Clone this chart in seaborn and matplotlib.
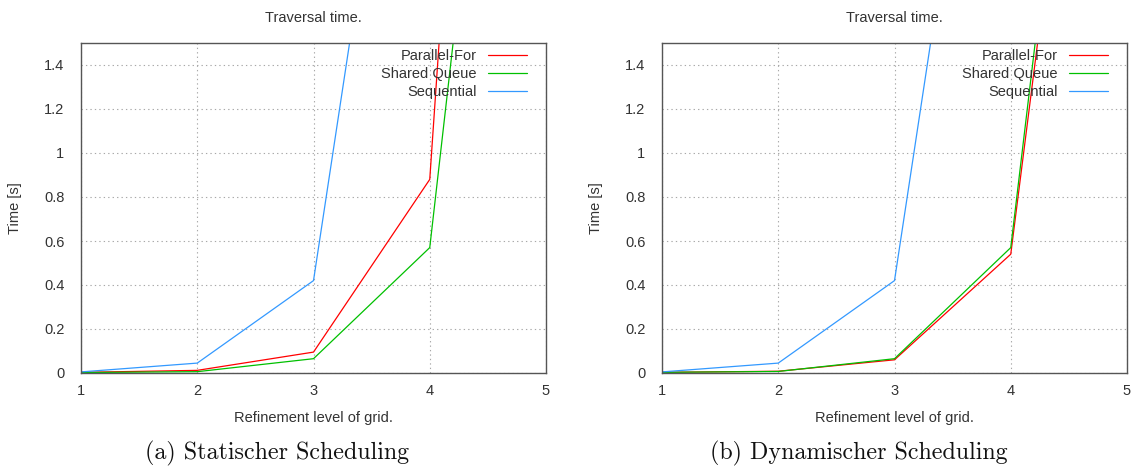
import matplotlib
matplotlib.use("Agg")
import matplotlib.pyplot as plt
import matplotlib.ticker as mticker
import seaborn as sns
import pandas as pd

levels = [1, 2, 3, 4, 5]
series_names = ["Parallel-For", "Shared Queue", "Sequential"]

# Panel (a) Statischer Scheduling
static_parallel_for = [0.003, 0.012, 0.095, 0.88, 8.6]
static_shared_queue = [0.002, 0.006, 0.065, 0.57, 5.2]
static_sequential = [0.005, 0.045, 0.42, 3.9, 35.0]

# Panel (b) Dynamischer Scheduling
dynamic_parallel_for = [0.003, 0.008, 0.060, 0.54, 4.7]
dynamic_shared_queue = [0.003, 0.007, 0.065, 0.57, 5.0]
dynamic_sequential = [0.005, 0.045, 0.42, 3.9, 35.0]

title_text = "Traversal time."
xlabel_text = "Refinement level of grid."
ylabel_text = "Time [s]"
captions = ["(a) Statischer Scheduling", "(b) Dynamischer Scheduling"]
yticks = [0, 0.2, 0.4, 0.6, 0.8, 1.0, 1.2, 1.4]

sns.set_theme(style="white")
plt.rcParams["font.family"] = ["Liberation Sans", "DejaVu Sans"]

colors = {"Parallel-For": "#ff0000", "Shared Queue": "#00c000", "Sequential": "#3399ff"}
text_col = "#333333"
fs = 10.5

fig = plt.figure(figsize=(11.37, 4.68), dpi=100)
axes = [fig.add_axes([81 / 1137, 1 - 373 / 468, 465 / 1137, 330 / 468]),
        fig.add_axes([662 / 1137, 1 - 373 / 468, 465 / 1137, 330 / 468])]

panels = [
    (static_parallel_for, static_shared_queue, static_sequential),
    (dynamic_parallel_for, dynamic_shared_queue, dynamic_sequential),
]

for ax, vals, cap, cx in zip(axes, panels, captions, [277, 859]):
    rows = []
    for name, v in zip(series_names, vals):
        for lv, t in zip(levels, v):
            rows.append({"level": lv, "time": t, "series": name})
    df = pd.DataFrame(rows)
    sns.lineplot(data=df, x="level", y="time", hue="series", hue_order=series_names,
                 palette=colors, linewidth=0.9, ax=ax, legend=True)
    ax.set_xlim(1, 5)
    ax.set_ylim(0, 1.5)
    ax.set_xticks(levels)
    ax.set_yticks(yticks)
    ax.yaxis.set_major_formatter(mticker.FuncFormatter(lambda v, p: "%g" % round(v, 2)))
    ax.grid(True, linestyle=(0, (1.2, 2.8)), color="#a8a8a8", linewidth=0.8)
    ax.tick_params(direction="in", length=4, width=0.8, colors="#555555",
                   labelcolor=text_col, labelsize=fs, top=False, right=False)
    ax.tick_params(axis="x", pad=8)
    ax.tick_params(axis="y", pad=12)
    for s in ax.spines.values():
        s.set_color("#555555")
        s.set_linewidth(1.0)
    ax.set_xlabel(xlabel_text, fontsize=fs, color=text_col, labelpad=9)
    ax.set_ylabel(ylabel_text, fontsize=fs, color=text_col, labelpad=16)
    ax.set_title(title_text, fontsize=fs, color=text_col, pad=15)
    leg = ax.legend(loc="upper right", frameon=False, markerfirst=False, fontsize=fs,
                    handlelength=2.7, handletextpad=0.75, labelspacing=0.3,
                    borderaxespad=0.1, bbox_to_anchor=(0.975, 1.005))
    for t in leg.get_texts():
        t.set_color(text_col)
        t.set_ha("right")
    leg._legend_box.align = "right"
    fig.text(cx / 1137, 1 - 453 / 468, cap, ha="center", va="center",
             fontsize=17.3, family=["cmr10", "DejaVu Serif"], color="#111111")

fig.savefig("out.png", dpi=100)
